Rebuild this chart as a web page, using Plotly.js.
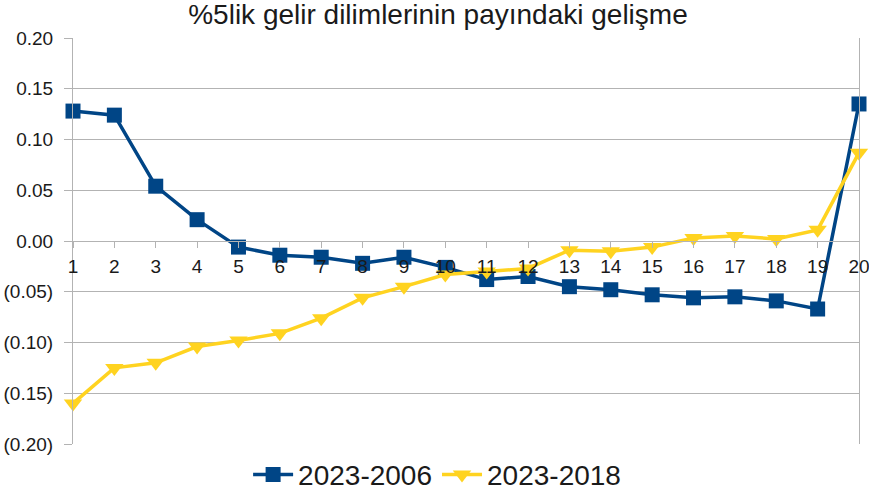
<!DOCTYPE html>
<html>
<head>
<meta charset="utf-8">
<script src="https://cdn.plot.ly/plotly-3.0.1.min.js"></script>
<style>html,body{margin:0;padding:0;background:#fff;}#chart{width:869px;height:494px;}</style>
</head>
<body>
<div id="chart"></div>
<script>
const categories = [1,2,3,4,5,6,7,8,9,10,11,12,13,14,15,16,17,18,19,20];
const series2006 = [0.128,0.124,0.054,0.021,-0.006,-0.014,-0.016,-0.022,-0.016,-0.026,-0.038,-0.035,-0.045,-0.048,-0.053,-0.056,-0.055,-0.059,-0.067,0.135];
const series2018 = [-0.160,-0.125,-0.120,-0.104,-0.098,-0.091,-0.076,-0.056,-0.045,-0.033,-0.030,-0.027,-0.009,-0.010,-0.006,0.003,0.005,0.002,0.011,0.087];
const yTickVals = [0.20,0.15,0.10,0.05,0.00,-0.05,-0.10,-0.15,-0.20];
const yTickText = ["0.20","0.15","0.10","0.05","0.00","(0.05)","(0.10)","(0.15)","(0.20)"];
const seriesNames = ["2023-2006","2023-2018"];

const font = "Liberation Sans, Arial, sans-serif";
const traces = [
  {x: categories, y: series2006, name: seriesNames[0], type: "scatter", mode: "lines+markers", cliponaxis: false,
   line: {color: "#004586", width: 3.5}, marker: {symbol: "square", size: 15, color: "#004586"}},
  {x: categories, y: series2018, name: seriesNames[1], type: "scatter", mode: "lines+markers", cliponaxis: false,
   line: {color: "#ffd320", width: 3.5}, marker: {symbol: "triangle-down", size: 16, color: "#ffd320"}}
];
const layout = {
  width: 869, height: 494,
  margin: {l: 73, r: 10, t: 38, b: 50, autoexpand: false},
  paper_bgcolor: "#ffffff", plot_bgcolor: "#ffffff",
  font: {family: font, color: "#1a1a1a", size: 19},
  title: {text: "%5lik gelir dilimlerinin payındaki gelişme", x: 0.504, xref: "container", xanchor: "center", y: 0.972, yanchor: "middle",
          font: {family: font, size: 28, color: "#1a1a1a"}},
  xaxis: {range: [1, 20], tickvals: categories, ticktext: categories.map(String),
          anchor: "free", position: 0.5, showgrid: false, zeroline: false,
          showline: true, linecolor: "#b3b3b3", linewidth: 1,
          ticks: "outside", ticklen: 6, tickcolor: "#b3b3b3", ticklabelstandoff: 2,
          ticklabeloverflow: "allow",
          tickfont: {family: font, size: 19, color: "#1a1a1a"}},
  yaxis: {range: [-0.2, 0.2], domain: [0, 1], tickvals: yTickVals, ticktext: yTickText,
          showgrid: true, gridcolor: "#b3b3b3", gridwidth: 1, zeroline: false,
          showline: true, linecolor: "#b3b3b3", linewidth: 1, mirror: true,
          ticks: "outside", ticklen: 8, tickcolor: "#b3b3b3", ticklabelstandoff: 7,
          tickfont: {family: font, size: 19, color: "#1a1a1a"}},
  legend: {orientation: "h", xref: "container", x: 0.503, xanchor: "center", y: -0.076, yanchor: "middle",
           font: {family: font, size: 28, color: "#1a1a1a"}, itemwidth: 40},
  showlegend: true
};
Plotly.newPlot("chart", traces, layout, {displayModeBar: false, staticPlot: true});
</script>
</body>
</html>
